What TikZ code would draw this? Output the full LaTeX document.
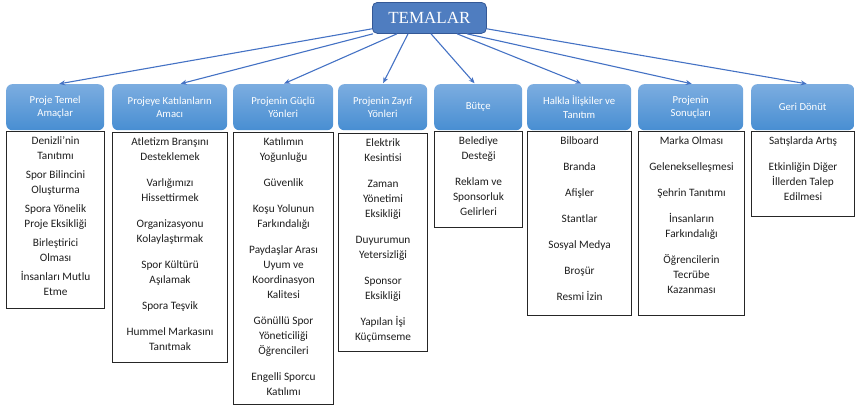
\documentclass[tikz,border=0pt]{standalone}
\usepackage{fontspec}
\setmainfont{Carlito}
\newfontfamily\titlefont{Liberation Serif}
\usetikzlibrary{arrows.meta,calc}
\definecolor{hTop}{RGB}{124,173,224}
\definecolor{hBot}{RGB}{72,142,210}
\definecolor{tFill}{RGB}{79,125,192}
\definecolor{tDraw}{RGB}{52,88,150}
\definecolor{arrC}{RGB}{68,114,196}
\definecolor{txtC}{RGB}{30,30,30}
\begin{document}
\begin{tikzpicture}[x=1pt,y=-1pt,
  tbox/.style={rounded corners=5pt, fill=tFill, draw=tDraw, line width=0.8pt, text=white, font=\titlefont\fontsize{17}{20}\selectfont, inner sep=0pt},
  hbox/.style={rounded corners=6pt, top color=hTop, bottom color=hBot, draw=none, text=white, align=center, font=\fontsize{10.7}{13.5}\selectfont, inner sep=1pt, anchor=north west},
  cbox/.style={draw=black!85, line width=1.1pt, fill=white, anchor=north west, inner sep=0pt},
  ctext/.style={align=center, text=txtC, font=\fontsize{11.3}{15}\selectfont, inner sep=0pt, anchor=north},
  arr/.style={draw=arrC, line width=1.1pt, -{Stealth[length=6pt,width=5pt]}, shorten >=1pt}]
\useasboundingbox (0,0) rectangle (855,408);

\node[tbox, minimum width=114pt, minimum height=31pt, anchor=north west] (t) at (372,2) {TEMALAR};

% headers
\node[hbox, minimum width=98pt,  minimum height=46pt] (h1) at (6,84)   {Proje Temel\\Amaçlar};
\node[hbox, minimum width=115pt, minimum height=46pt] (h2) at (112,84) {Projeye Katılanların\\Amacı};
\node[hbox, minimum width=100pt, minimum height=46pt] (h3) at (233,84) {Projenin Güçlü\\Yönleri};
\node[hbox, minimum width=89pt,  minimum height=46pt] (h4) at (338,84) {Projenin Zayıf\\Yönleri};
\node[hbox, minimum width=88pt,  minimum height=46pt] (h5) at (434,84) {Bütçe};
\node[hbox, minimum width=104pt, minimum height=46pt] (h6) at (527,84) {Halkla İlişkiler ve\\Tanıtım};
\node[hbox, minimum width=105pt, minimum height=46pt] (h7) at (638,84) {Projenin\\Sonuçları};
\node[hbox, minimum width=103pt, minimum height=46pt] (h8) at (751,84) {Geri Dönüt};

% content boxes
\node[cbox, minimum width=98pt,  minimum height=177pt] (c1) at (6,131) {};
\node[cbox, minimum width=115pt, minimum height=230pt] (c2) at (112,132) {};
\node[cbox, minimum width=100pt, minimum height=272pt] (c3) at (233,132) {};
\node[cbox, minimum width=89pt,  minimum height=218pt] (c4) at (338,133) {};
\node[cbox, minimum width=88pt,  minimum height=96pt]  (c5) at (434,131) {};
\node[cbox, minimum width=104pt, minimum height=184pt] (c6) at (527,131) {};
\node[cbox, minimum width=106pt, minimum height=184pt] (c7) at (638,131) {};
\node[cbox, minimum width=103pt, minimum height=85pt]  (c8) at (751,131) {};

% texts
\node[ctext] (x1) at ([yshift=-5pt]c1.north) {Denizli’nin\\Tanıtımı\\[4pt]Spor Bilincini\\Oluşturma\\[4pt]Spora Yönelik\\Proje Eksikliği\\[4pt]Birleştirici\\Olması\\[4pt]İnsanları Mutlu\\Etme};
\node[ctext] (x2) at ([yshift=-5pt]c2.north) {Atletizm Branşını\\Desteklemek\\[11pt]Varlığımızı\\Hissettirmek\\[11pt]Organizasyonu\\Kolaylaştırmak\\[11pt]Spor Kültürü\\Aşılamak\\[11pt]Spora Teşvik\\[11pt]Hummel Markasını\\Tanıtmak};
\node[ctext] (x3) at ([yshift=-5pt]c3.north) {Katılımın\\Yoğunluğu\\[11pt]Güvenlik\\[11pt]Koşu Yolunun\\Farkındalığı\\[11pt]Paydaşlar Arası\\Uyum ve\\Koordinasyon\\Kalitesi\\[11pt]Gönüllü Spor\\Yöneticiliği\\Öğrencileri\\[11pt]Engelli Sporcu\\Katılımı};
\node[ctext] (x4) at ([yshift=-5pt]c4.north) {Elektrik\\Kesintisi\\[11pt]Zaman\\Yönetimi\\Eksikliği\\[11pt]Duyurumun\\Yetersizliği\\[11pt]Sponsor\\Eksikliği\\[11pt]Yapılan İşi\\Küçümseme};
\node[ctext] (x5) at ([yshift=-5pt]c5.north) {Belediye\\Desteği\\[11pt]Reklam ve\\Sponsorluk\\Gelirleri};
\node[ctext] (x6) at ([yshift=-5pt]c6.north) {Bilboard\\[11pt]Branda\\[11pt]Afişler\\[11pt]Stantlar\\[11pt]Sosyal Medya\\[11pt]Broşür\\[11pt]Resmi İzin};
\node[ctext] (x7) at ([yshift=-5pt]c7.north) {Marka Olması\\[11pt]Gelenekselleşmesi\\[11pt]Şehrin Tanıtımı\\[11pt]İnsanların\\Farkındalığı\\[11pt]Öğrencilerin\\Tecrübe\\Kazanması};
\node[ctext] (x8) at ([yshift=-5pt]c8.north) {Satışlarda Artış\\[11pt]Etkinliğin Diğer\\İllerden Talep\\Edilmesi};

% arrows
\draw[arr] ([yshift=5pt]t.south west) -- ([xshift=3pt]h1.north);
\draw[arr] ([xshift=1pt]t.south west) -- ([xshift=10pt]h2.north);
\draw[arr] ([xshift=25pt]t.south west) -- (h3.north);
\draw[arr] ([xshift=36pt]t.south west) -- (h4.north);
\draw[arr] ([xshift=59pt]t.south west) -- ([xshift=-3pt]h5.north);
\draw[arr] ([xshift=85pt]t.south west) -- ([xshift=3pt]h6.north);
\draw[arr] ([xshift=95pt]t.south west) -- ([xshift=2pt]h7.north);
\draw[arr] ([yshift=5pt]t.south east) -- ([xshift=5pt]h8.north);
\end{tikzpicture}
\end{document}
